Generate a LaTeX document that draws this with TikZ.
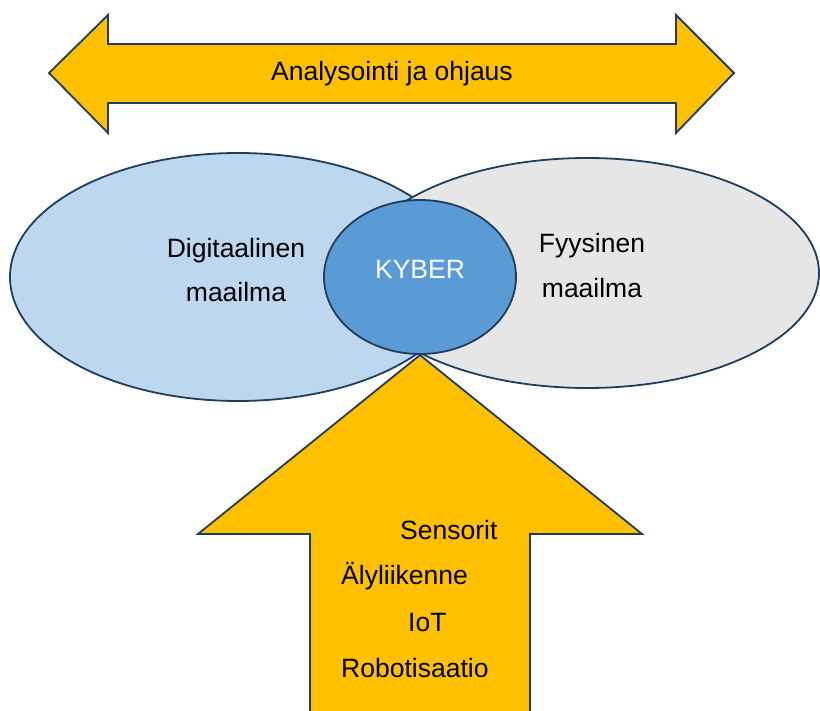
\documentclass[tikz,border=0pt]{standalone}
\usepackage{fontspec}
\setmainfont{Liberation Sans}
\definecolor{edge}{HTML}{203D5E}
\definecolor{gold}{HTML}{FFC000}
\definecolor{lblue}{HTML}{BDD7EE}
\definecolor{lgrey}{HTML}{E6E6E6}
\definecolor{mblue}{HTML}{5B9BD5}
\tikzset{
  shapeline/.style={draw=edge, line width=1.8pt, line join=miter},
  lbl/.style={inner sep=0pt, font=\fontsize{26.5}{30}\selectfont, text=black},
}
\begin{document}
\begin{tikzpicture}[x=1pt,y=-1pt]
\useasboundingbox (0,0) rectangle (820,711);
\clip (0,0) rectangle (820,711);
% ellipses
\path[shapeline, fill=lblue] (238,277) ellipse [x radius=228, y radius=124];
\path[shapeline, fill=lgrey] (587,273) ellipse [x radius=232, y radius=115];
\path[shapeline, fill=mblue] (420,277) ellipse [x radius=96, y radius=77];
% top double arrow
\path[shapeline, fill=gold] (49,73) -- (108,15) -- (108,44) -- (676,44) -- (676,15) -- (734,73) -- (676,133) -- (676,103) -- (108,103) -- (108,133) -- cycle;
% bottom arrow
\path[shapeline, fill=gold] (420,355) -- (642,534) -- (530,534) -- (530,730) -- (310,730) -- (310,534) -- (198,534) -- cycle;
% texts
\node[lbl, anchor=base] (t1) at (392,81) {Analysointi ja ohjaus};
\node[lbl, anchor=base] (d1) at (236,258) {Digitaalinen};
\node[lbl, anchor=base] (d2) at (236,302) {maailma};
\node[lbl, anchor=base] (f1) at (592,253) {Fyysinen};
\node[lbl, anchor=base] (f2) at (592,298) {maailma};
\node[lbl, anchor=base, text=white] (k) at (420,279) {KYBER};
\node[lbl, anchor=base west] (s1) at (400,539) {Sensorit};
\node[lbl, anchor=base west] (s2) at (341,584) {Älyliikenne};
\node[lbl, anchor=base west] (s3) at (408,631) {IoT};
\node[lbl, anchor=base west] (s4) at (341,677) {Robotisaatio};
\end{tikzpicture}
\end{document}
